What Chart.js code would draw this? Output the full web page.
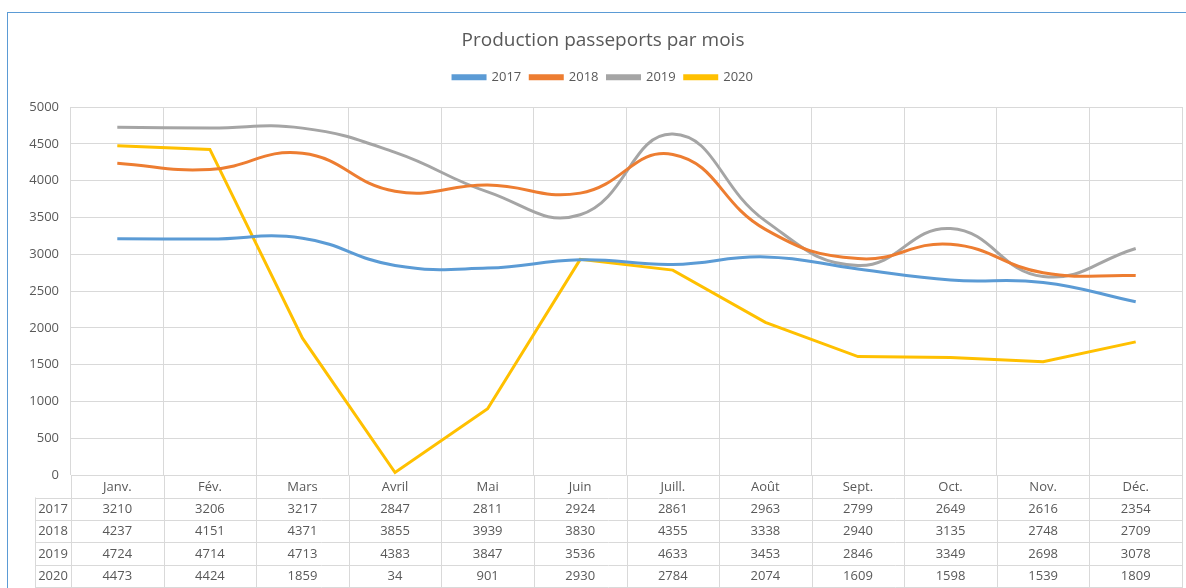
<!DOCTYPE html>
<html>
<head>
<meta charset="utf-8">
<script src="https://cdn.jsdelivr.net/npm/chart.js@4.4.1/dist/chart.umd.min.js"></script>
<style>
  html, body { margin: 0; padding: 0; background: #fff; overflow: hidden; }
  #wrap { position: relative; width: 1186px; height: 588px; overflow: hidden; }
  #frame { position: absolute; left: 7px; top: 12px; width: 1200px; height: 600px; border: 1px solid #5B9BD5; box-sizing: border-box; pointer-events: none; }
  canvas { position: absolute; left: 0; top: 0; }
</style>
</head>
<body>
<div id="wrap">
  <div id="frame"></div>
  <canvas id="c" width="1206" height="588"></canvas>
</div>
<script>
const months = ["Janv.", "Fév.", "Mars", "Avril", "Mai", "Juin", "Juill.", "Août", "Sept.", "Oct.", "Nov.", "Déc."];
const years = ["2017", "2018", "2019", "2020"];
const v2017 = [3210, 3206, 3217, 2847, 2811, 2924, 2861, 2963, 2799, 2649, 2616, 2354];
const v2018 = [4237, 4151, 4371, 3855, 3939, 3830, 4355, 3338, 2940, 3135, 2748, 2709];
const v2019 = [4724, 4714, 4713, 4383, 3847, 3536, 4633, 3453, 2846, 3349, 2698, 3078];
const v2020 = [4473, 4424, 1859, 34, 901, 2930, 2784, 2074, 1609, 1598, 1539, 1809];
const colors = ["#5B9BD5", "#ED7D31", "#A5A5A5", "#FFC000"];
const smooth = [0.45, 0.45, 0.45, 0];
const seriesValues = [v2017, v2018, v2019, v2020];

const FONT = "'Open Sans', 'Noto Sans', sans-serif";
const TXT = "#595959";
const GRID = "#D9D9D9";

const tablePlugin = {
  id: 'dataTable',
  afterDraw(chart) {
    const ctx = chart.ctx;
    const x = chart.scales.x;
    const area = chart.chartArea;
    const left = 35, rowTop = 497.5, rowH = 22.4, bottom = 588;
    ctx.save();
    ctx.strokeStyle = GRID;
    ctx.lineWidth = 1;
    for (let r = 0; r <= years.length; r++) {
      const y = Math.round(rowTop + r * rowH) + 0.5;
      ctx.beginPath(); ctx.moveTo(left, y); ctx.lineTo(area.right, y); ctx.stroke();
    }
    ctx.beginPath(); ctx.moveTo(left + 0.5, rowTop); ctx.lineTo(left + 0.5, bottom); ctx.stroke();
    const step = (area.right - area.left) / months.length;
    for (let j = 0; j <= months.length; j++) {
      const xx = Math.round(area.left + j * step) + 0.5;
      ctx.beginPath(); ctx.moveTo(xx, area.bottom); ctx.lineTo(xx, bottom); ctx.stroke();
    }
    ctx.fillStyle = TXT;
    ctx.font = "13px " + FONT;
    ctx.textAlign = 'center';
    ctx.textBaseline = 'middle';
    chart.data.datasets.forEach((ds, i) => {
      const y = rowTop + i * rowH + rowH / 2 + 0.5;
      ctx.fillText(ds.label, (left + area.left) / 2, y);
      ds.data.forEach((v, j) => {
        ctx.fillText(String(v), x.getPixelForValue(j), y);
      });
    });
    ctx.restore();
  }
};

new Chart(document.getElementById('c'), {
  type: 'line',
  data: {
    labels: months,
    datasets: years.map((y, i) => ({
      label: y,
      data: seriesValues[i],
      borderColor: colors[i],
      backgroundColor: colors[i],
      borderWidth: 3,
      tension: smooth[i],
      pointRadius: 0,
      fill: false
    }))
  },
  options: {
    responsive: false,
    animation: false,
    devicePixelRatio: 1,
    layout: { padding: { left: 0, right: 0, top: 0, bottom: 0 } },
    plugins: {
      title: {
        display: true,
        text: 'Production passeports par mois',
        color: TXT,
        font: { family: FONT, size: 19, weight: 'normal' },
        padding: { top: 29, bottom: 10 }
      },
      subtitle: {
        display: true,
        text: ' ',
        weight: 500,
        font: { size: 1 },
        padding: { top: 12, bottom: 0 }
      },
      legend: {
        display: true,
        labels: {
          color: TXT,
          font: { family: FONT, size: 13 },
          boxWidth: 32,
          boxHeight: 3,
          padding: 9
        }
      },
      tooltip: { enabled: false }
    },
    scales: {
      x: {
        offset: true,
        grid: { offset: true, color: GRID, drawTicks: false },
        border: { display: false },
        ticks: { color: TXT, font: { family: FONT, size: 13 }, padding: 4, maxRotation: 0, autoSkip: false },
        afterFit(s) { s.height = 588 - 475; }
      },
      y: {
        min: 0, max: 5000,
        grid: { color: GRID, drawTicks: false },
        border: { display: false },
        ticks: { stepSize: 500, color: TXT, font: { family: FONT, size: 13 }, padding: 12,
                 callback: (v) => String(v) },
        afterFit(s) { s.width = 71; }
      },
      yRight: {
        position: 'right',
        min: 0, max: 5000,
        grid: { display: false, drawOnChartArea: false },
        border: { display: false },
        ticks: { display: false },
        afterFit(s) { s.width = 24; }
      }
    }
  },
  plugins: [tablePlugin]
});
</script>
</body>
</html>
